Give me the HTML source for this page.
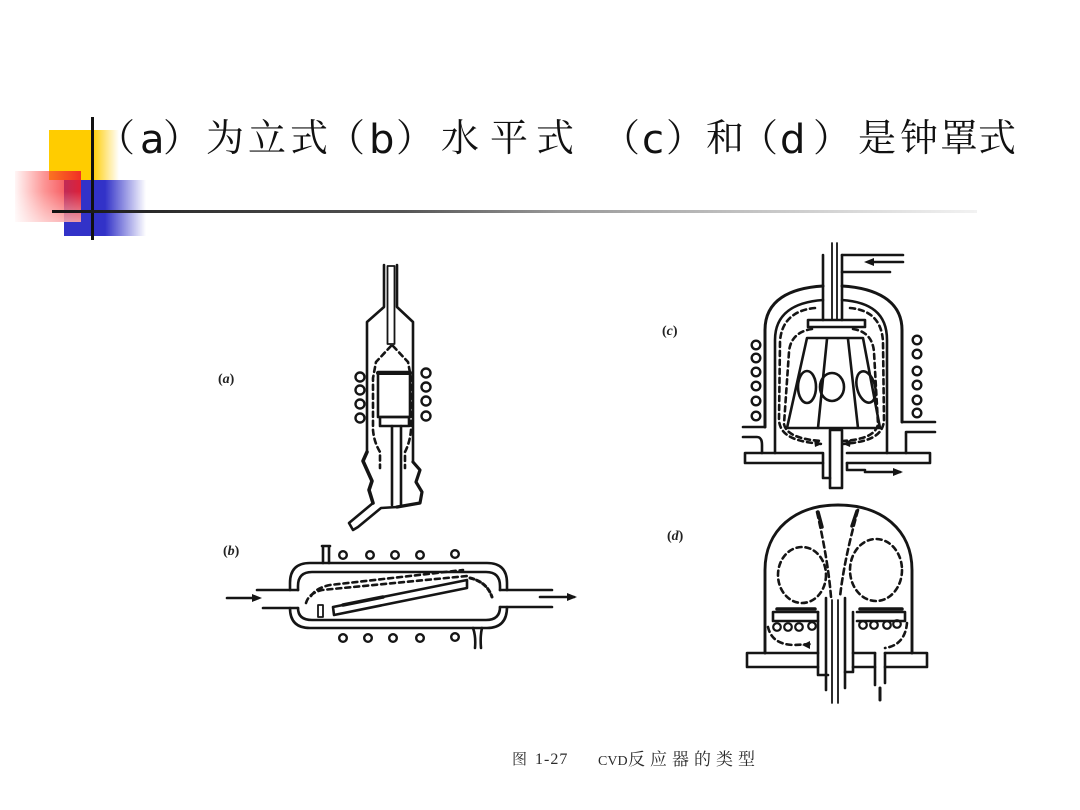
<!DOCTYPE html>
<html><head><meta charset="utf-8">
<style>
html,body{margin:0;padding:0;background:#fff;}
body{width:1080px;height:810px;position:relative;overflow:hidden;}
.a{position:absolute;}
.t{position:absolute;top:120px;font-size:38px;line-height:38px;font-family:"Liberation Serif","Noto Serif CJK SC",serif;color:#111;white-space:nowrap;}
.l{position:absolute;top:120px;font-size:40px;line-height:40px;font-family:"DejaVu Sans","Liberation Sans",sans-serif;color:#111;white-space:nowrap;}
.c{position:absolute;top:750px;font-size:17px;line-height:20px;color:#2a2a2a;white-space:nowrap;}
</style></head><body>

<!-- header decoration -->
<div class="a" style="left:49px;top:130px;width:70px;height:50px;background:linear-gradient(to right,#FFCC00 0%,#FFCC00 62%,rgba(255,204,0,0) 100%);"></div>
<div class="a" style="left:64px;top:180px;width:82px;height:56px;background:linear-gradient(to right,#3232C8 0%,#3232C8 50%,rgba(50,50,200,0) 100%);"></div>
<div class="a" style="left:15px;top:171px;width:66px;height:51px;background:linear-gradient(to bottom,rgba(255,255,255,0) 0%,rgba(255,255,255,0) 40%,rgba(255,255,255,0.55) 100%),linear-gradient(to right,rgba(255,80,80,0.05) 0%,rgba(250,60,60,0.55) 45%,rgba(240,30,40,0.9) 100%);"></div>
<div class="a" style="left:91px;top:117px;width:3px;height:123px;background:#111;"></div>
<div class="a" style="left:52px;top:210px;width:925px;height:3px;background:linear-gradient(to right,#111 0%,#333 15%,#555 38%,#999 55%,#ccc 80%,#f2f2f2 100%);"></div>

<!-- title -->
<span class="t" style="left:97px">（</span>
<span class="l" style="left:140px">a</span>
<span class="t" style="left:163px">）</span>
<span class="t" style="left:206px">为</span>
<span class="t" style="left:248px">立</span>
<span class="t" style="left:290px">式</span>
<span class="t" style="left:327px">（</span>
<span class="l" style="left:369px">b</span>
<span class="t" style="left:396px">）</span>
<span class="t" style="left:441px">水</span>
<span class="t" style="left:490px">平</span>
<span class="t" style="left:536px">式</span>
<span class="t" style="left:602px">（</span>
<span class="l" style="left:642px">c</span>
<span class="t" style="left:666px">）</span>
<span class="t" style="left:706px">和</span>
<span class="t" style="left:740px">（</span>
<span class="l" style="left:780px">d</span>
<span class="t" style="left:813px">）</span>
<span class="t" style="left:858px">是</span>
<span class="t" style="left:900px">钟</span>
<span class="t" style="left:940px">罩</span>
<span class="t" style="left:978px">式</span>

<svg class="a" style="left:0;top:0" width="1080" height="810" viewBox="0 0 1080 810" xmlns="http://www.w3.org/2000/svg">
<g fill="none" stroke="#151515" stroke-width="2.6" stroke-linejoin="round" stroke-linecap="round">

<!-- ===== (a) ===== -->
<path d="M384 265 V307 L367 322 V452"/>
<path d="M397 265 V307 L413 322 V462"/>
<rect x="387.5" y="266" width="7" height="78" stroke-width="1.8"/>
<path d="M367 452 L363 461 L372 481 L369 490 L373 503" stroke-width="3.6"/>
<path d="M413 462 L420 470 L416 482 L422 492 L420 503 L397 507" stroke-width="3.2"/>
<path d="M373 503 L349 523 L353 530 L358 527 L381 508 L397 507"/>
<rect x="378" y="372" width="32" height="45"/>
<line x1="378" y1="373" x2="410" y2="373" stroke-width="4"/>
<rect x="380" y="417" width="29" height="9"/>
<path d="M392 426 V505 M401 426 V505"/>
<path d="M391 346 L376 362 L373 378 V430 Q374 442 380 452 V468" stroke-dasharray="5 4"/>
<path d="M393 346 L408 362 L411 378 V430 Q410 442 405 452 V468" stroke-dasharray="5 4"/>
<g stroke-width="2.4">
<circle cx="360" cy="377" r="4.5"/><circle cx="360" cy="390" r="4.5"/><circle cx="360" cy="404" r="4.5"/><circle cx="360" cy="418" r="4.5"/>
<circle cx="426" cy="373" r="4.5"/><circle cx="426" cy="387" r="4.5"/><circle cx="426" cy="401" r="4.5"/><circle cx="426" cy="416" r="4.5"/>
</g>

<!-- ===== (b) ===== -->
<path d="M257 590 H298 M500 590 H552"/>
<path d="M263 608 H298 M500 607 H552"/>
<path d="M290 590 V583 Q290 563 310 563 H487 Q507 563 507 583 V590"/>
<path d="M290 608 Q290 628 310 628 H487 Q507 628 507 607"/>
<path d="M298 590 V586 Q298 572 312 572 H486 Q500 572 500 586 V590"/>
<path d="M298 608 Q298 620 312 620 H486 Q500 620 500 607"/>
<path d="M323 563 V546 M329 563 V546 M322 546 H330"/>
<path d="M473 628 Q476 636 475 648 M482 628 Q480 636 481 648"/>
<polygon points="333,607 467,580 467,588 334,615"/>
<line x1="343" y1="605" x2="383" y2="597" stroke-width="3.5"/>
<rect x="318" y="605" width="5" height="12" stroke-width="1.8"/>
<path d="M306 603 Q309 593 322 590 L467 576" stroke-dasharray="5 4"/>
<path d="M311 596 Q316 588 330 585 L463 570" stroke-dasharray="5 4"/>
<path d="M470 578 Q487 582 492 597" stroke-dasharray="4 3" stroke-width="3"/>
<g stroke-width="2.4">
<circle cx="343" cy="555" r="3.8"/><circle cx="370" cy="555" r="3.8"/><circle cx="395" cy="555" r="3.8"/><circle cx="420" cy="555" r="3.8"/><circle cx="455" cy="554" r="3.8"/>
<circle cx="343" cy="638" r="3.8"/><circle cx="368" cy="638" r="3.8"/><circle cx="393" cy="638" r="3.8"/><circle cx="420" cy="638" r="3.8"/><circle cx="455" cy="637" r="3.8"/>
</g>
<path d="M227 598 H258"/>
<path d="M540 597 H574"/>

<!-- ===== (c) ===== -->
<path d="M823 255 V320 M842 255 V320"/>
<path d="M832 243 V320 M837 243 V320" stroke-width="1.8"/>
<path d="M842 255 H903 M842 272 H890"/>
<path d="M870 262 H903"/>
<path d="M765 427 V330 C765 300 790 288 823 286" stroke-width="3"/>
<path d="M842 286 C875 288 902 300 902 330 V422" stroke-width="3"/>
<path d="M775 453 V340 C775 313 795 302 823 300"/>
<path d="M842 300 C870 302 887 313 887 340 V453"/>
<rect x="808" y="320" width="57" height="7"/>
<path d="M807 338 H863 L880 428 H787 Z"/>
<path d="M827 339 L818 428 M848 339 L858 428"/>
<ellipse cx="807" cy="387" rx="9" ry="16"/>
<ellipse cx="832" cy="387" rx="12" ry="14"/>
<ellipse cx="866" cy="387" rx="9" ry="16" transform="rotate(-15 866 387)"/>
<path d="M815 308 C793 310 781 322 780 342 L779 420 C780 438 800 442 822 444" stroke-dasharray="5 4"/>
<path d="M812 329 C798 331 790 339 789 352 L784 424 C786 436 805 440 822 441" stroke-dasharray="5 4"/>
<path d="M850 308 C872 310 882 322 883 342 L884 420 C883 438 865 442 843 444" stroke-dasharray="5 4"/>
<path d="M853 329 C866 331 873 339 874 352 L878 424 C876 436 860 440 843 441" stroke-dasharray="5 4"/>
<path d="M743 427 H765 M743 437 H757 Q762 437 762 445 V453"/>
<path d="M902 422 H935 M906 432 H935 M906 432 V453"/>
<path d="M745 453 H823 V463 H745 Z"/>
<path d="M847 453 H930 V463 H847"/>
<path d="M823 463 V478 H830"/>
<rect x="830" y="430" width="12" height="58"/>
<path d="M847 463 V470 H865"/>
<path d="M865 472 H900"/>
<g stroke-width="2.4">
<circle cx="756" cy="345" r="4.3"/><circle cx="756" cy="358" r="4.3"/><circle cx="756" cy="372" r="4.3"/><circle cx="756" cy="386" r="4.3"/><circle cx="756" cy="401" r="4.3"/><circle cx="756" cy="416" r="4.3"/>
<circle cx="917" cy="340" r="4.3"/><circle cx="917" cy="354" r="4.3"/><circle cx="917" cy="371" r="4.3"/><circle cx="917" cy="385" r="4.3"/><circle cx="917" cy="400" r="4.3"/><circle cx="917" cy="413" r="4.3"/>
</g>

<!-- ===== (d) ===== -->
<path d="M765 653 V570 C765 530 795 505 838 505 C882 505 912 530 912 570 V653" stroke-width="2.9"/>
<path d="M747 653 H818 M747 667 H818 M747 653 V667"/>
<path d="M853 653 H875 M853 667 H875 M885 653 H927 V667 H885"/>
<path d="M818 612 V675 H828 M853 612 V672 H845"/>
<path d="M826 598 V690 M845 598 V688"/>
<path d="M832 600 V703 M838 600 V703" stroke-width="1.8"/>
<path d="M773 612 H818 M773 612 V621 H818"/>
<path d="M857 612 H905 V621 M857 621 H905"/>
<line x1="777" y1="609" x2="815" y2="609" stroke-width="3.5"/>
<line x1="860" y1="609" x2="902" y2="609" stroke-width="3.5"/>
<path d="M875 653 V685 M885 653 V683"/>
<g stroke-width="2.2">
<circle cx="777" cy="627" r="3.8"/><circle cx="788" cy="627" r="3.8"/><circle cx="799" cy="627" r="3.8"/><circle cx="812" cy="626" r="3.8"/>
<circle cx="863" cy="625" r="3.8"/><circle cx="874" cy="625" r="3.8"/><circle cx="887" cy="625" r="3.8"/><circle cx="897" cy="624" r="3.8"/>
</g>
<ellipse cx="802" cy="575" rx="24" ry="28" stroke-dasharray="5 4"/>
<ellipse cx="876" cy="570" rx="26" ry="31" stroke-dasharray="5 4"/>
<path d="M817 512 Q828 560 831 597" stroke-dasharray="6 4"/>
<path d="M858 510 Q844 560 840 597" stroke-dasharray="6 4"/>
<path d="M818 512 L822 527 M857 511 L852 526" stroke-width="3.5"/>
<path d="M768 627 Q772 645 795 645 L812 644" stroke-dasharray="5 4"/>
<path d="M907 623 Q905 645 885 648" stroke-dasharray="5 4"/>
<path d="M880 688 V700" stroke-width="3"/>
</g>

<!-- arrowheads -->
<g fill="#151515">
<polygon points="262,598 252,594 252,602"/>
<polygon points="577,597 567,593 567,601"/>
<polygon points="864,262 874,258 874,266"/>
<polygon points="903,472 893,468 893,476"/>
<polygon points="822,444 814,439 815,447"/>
<polygon points="843,444 851,439 850,447"/>
<polygon points="802,645 810,641 810,649"/>
</g>

<!-- labels -->
<g font-family="Liberation Serif, serif" font-weight="bold" font-size="14" fill="#222">
<text x="218" y="383">(<tspan font-style="italic">a</tspan>)</text>
<text x="223" y="555">(<tspan font-style="italic">b</tspan>)</text>
<text x="662" y="335">(<tspan font-style="italic">c</tspan>)</text>
<text x="667" y="540">(<tspan font-style="italic">d</tspan>)</text>
</g>
</svg>

<!-- caption -->
<span class="c" style="left:512px;font-family:'Liberation Serif','Noto Serif CJK SC',serif;font-size:15px;">图</span>
<span class="c" style="left:535px;font-family:'Liberation Serif',serif;font-size:16px;letter-spacing:1px;">1-27</span>
<span class="c" style="left:598px;font-family:'Liberation Serif',serif;font-size:14px;top:752px;">CVD</span>
<span class="c" style="left:628px;font-family:'Liberation Serif','Noto Serif CJK SC',serif;font-size:17px;letter-spacing:5px;">反应器的类型</span>

</body></html>
